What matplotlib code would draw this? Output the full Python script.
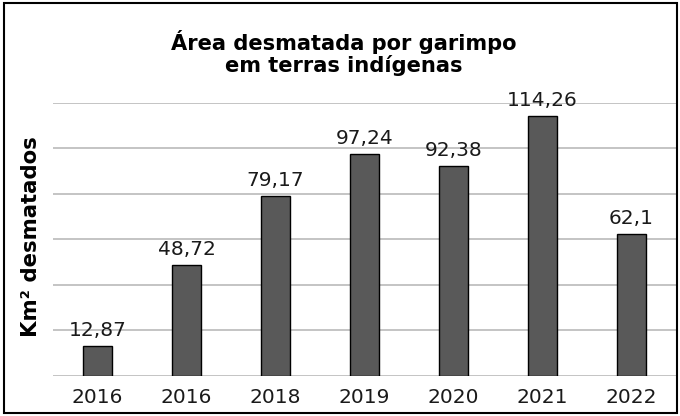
import matplotlib.pyplot as plt
from matplotlib.patches import Rectangle

anos = ["2016", "2016", "2018", "2019", "2020", "2021", "2022"]
area = [12.87, 48.72, 79.17, 97.24, 92.38, 114.26, 62.1]
rotulos = ["12,87", "48,72", "79,17", "97,24", "92,38", "114,26", "62,1"]

plt.rcParams['font.family'] = ['DejaVu Sans']

fig = plt.figure(figsize=(6.8, 4.16), dpi=100)
ax = fig.add_axes([0.0779, 0.0969, 0.9162, 0.6562])

x = list(range(len(anos)))
ax.bar(x, area, width=0.32, color='#595959', edgecolor='black', linewidth=1, zorder=3)

# rotulos de dados acima das barras
for xi, v, r in zip(x, area, rotulos):
    ax.text(xi, v + 4.4, r, ha='center', va='baseline', fontsize=14.5, color='#1a1a1a', zorder=4)

ax.set_xlim(-0.5, len(anos) - 0.5)
ax.set_ylim(0, 120)
ax.set_yticks(range(0, 121, 20))
ax.set_yticklabels([])
ax.tick_params(axis='y', length=0)
ax.tick_params(axis='x', length=0, labelsize=14.5, pad=9, labelcolor='#1a1a1a')
ax.set_xticks(x)
ax.set_xticklabels(anos)
ax.grid(axis='y', color='#bfbfbf', linewidth=1.3, zorder=0)
for s in ax.spines.values():
    s.set_visible(False)

ax.set_ylabel("Km² desmatados", fontsize=15.3, fontweight='bold')
ax.yaxis.set_label_coords(-0.02, 0.51)
fig.text(0.505, 0.872, "Área desmatada por garimpo\nem terras indígenas", ha='center', va='center',
         fontsize=15.1, fontweight='bold', linespacing=1.08)

fig.patches.append(Rectangle((0.006, 0.007), 0.99, 0.985, transform=fig.transFigure,
                             fill=False, edgecolor='black', linewidth=1.5))

fig.savefig("out.png", dpi=100)
